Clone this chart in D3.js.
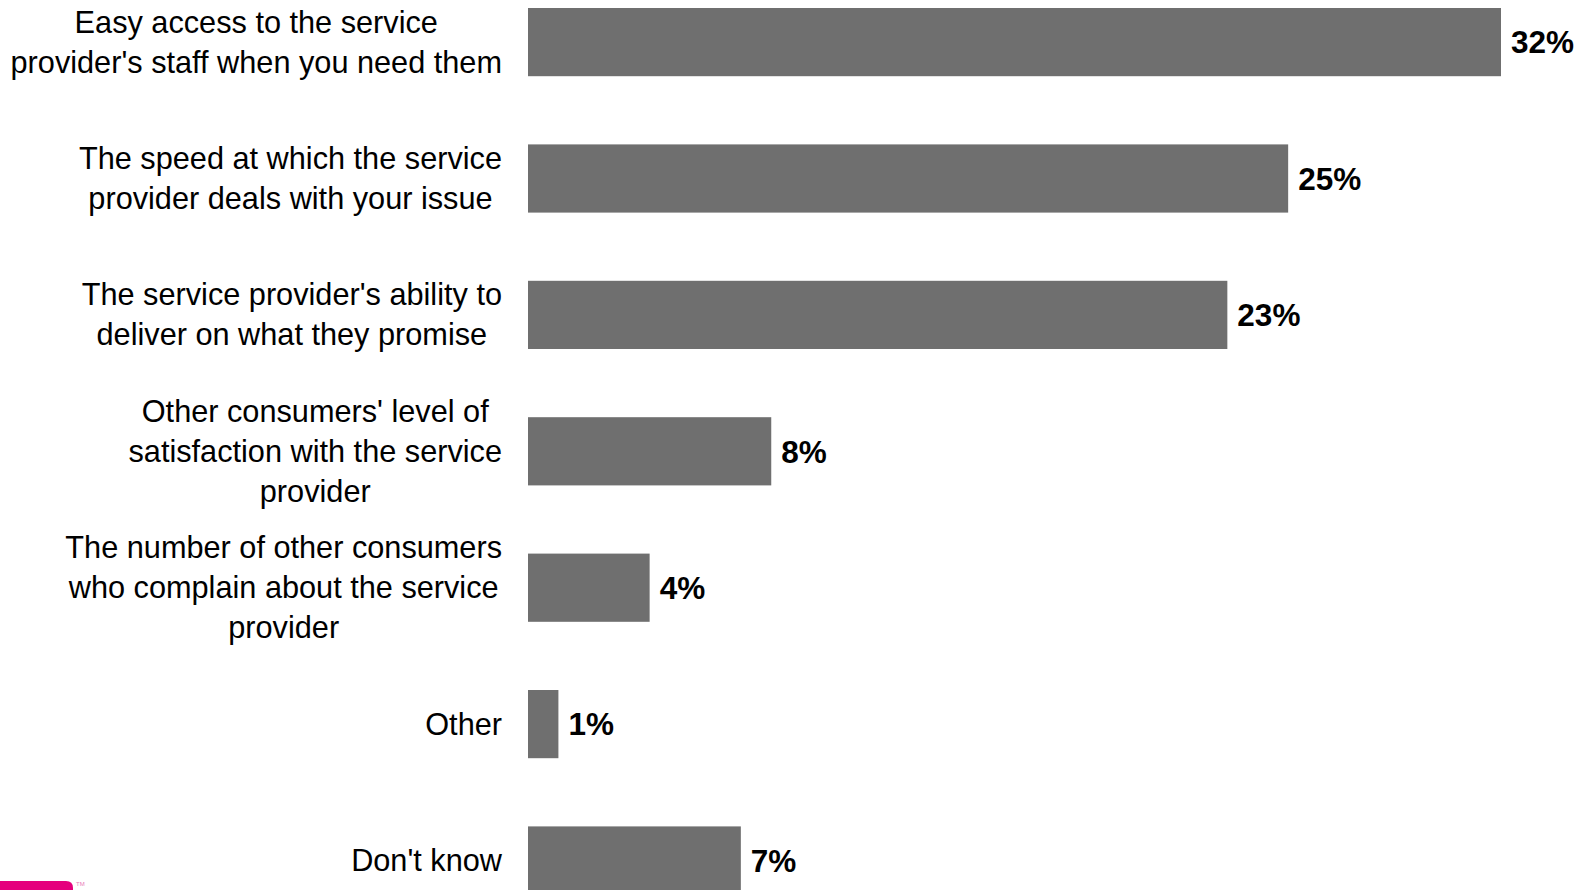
<!DOCTYPE html>
<html>
<head>
<meta charset="utf-8">
<script src="https://cdn.jsdelivr.net/npm/d3@7"></script>
<style>
  html, body { margin: 0; padding: 0; background: #fff; }
  svg { display: block; }
</style>
</head>
<body>
<svg id="chart" width="1582" height="890"></svg>
<script>
// Survey answers, in the order they are listed
const categories = [
  "Easy access to the service provider's staff when you need them",
  "The speed at which the service provider deals with your issue",
  "The service provider's ability to deliver on what they promise",
  "Other consumers' level of satisfaction with the service provider",
  "The number of other consumers who complain about the service provider",
  "Other",
  "Don't know"
];
// How each category label wraps onto lines
const labelLines = [
  ["Easy access to the service", "provider's staff when you need them"],
  ["The speed at which the service", "provider deals with your issue"],
  ["The service provider's ability to", "deliver on what they promise"],
  ["Other consumers' level of", "satisfaction with the service", "provider"],
  ["The number of other consumers", "who complain about the service", "provider"],
  ["Other"],
  ["Don't know"]
];
// Share of respondents (%)
const values = [32, 25, 23, 8, 4, 1, 7];

const svg = d3.select("#chart");

const step = 136.4;
const barTop = 8;
const y = d3.scaleBand()
  .domain(categories)
  .range([barTop - 0.25 * step, barTop + 6.75 * step])
  .paddingInner(0.5)
  .paddingOuter(0.25);

const x = d3.scaleLinear()
  .domain([0, 32])
  .range([528, 1501]);

const font = "'Liberation Sans', Arial, Helvetica, sans-serif";

// Bars
svg.append("g")
  .selectAll("rect")
  .data(categories)
  .join("rect")
  .attr("x", x(0))
  .attr("y", d => y(d))
  .attr("width", (d, i) => x(values[i]) - x(0))
  .attr("height", y.bandwidth())
  .attr("fill", "#6f6f6f");

// Value labels
svg.append("g")
  .selectAll("text")
  .data(categories)
  .join("text")
  .attr("x", (d, i) => x(values[i]) + 10)
  .attr("y", d => y(d) + y.bandwidth() / 2)
  .attr("dy", "0.36em")
  .attr("font-family", font)
  .attr("font-size", 31.5)
  .attr("font-weight", "bold")
  .attr("fill", "#000")
  .text((d, i) => values[i] + "%");

// Category labels: centred lines, block aligned right against the bars
const labelRight = 502;
const lineH = 40;
const labelG = svg.append("g");
categories.forEach((c, i) => {
  const lines = labelLines[i];
  const g = labelG.append("g");
  const texts = g.selectAll("text")
    .data(lines)
    .join("text")
    .attr("font-family", font)
    .attr("font-size", 30.7)
    .attr("fill", "#000")
    .attr("text-anchor", "middle")
    .text(d => d);
  let maxW = 0;
  texts.each(function () { maxW = Math.max(maxW, this.getComputedTextLength()); });
  const cx = labelRight - maxW / 2;
  const cy = y(c) + y.bandwidth() / 2;
  texts
    .attr("x", cx)
    .attr("y", (d, j) => cy + (j - (lines.length - 1) / 2) * lineH)
    .attr("dy", "0.34em");
});

// Brand mark in the lower left corner
svg.append("path")
  .attr("d", "M0,881 H66 Q73,881 73,888 V890 H0 Z")
  .attr("fill", "#e5007d");
svg.append("text")
  .attr("x", 76)
  .attr("y", 886)
  .attr("font-family", font)
  .attr("font-size", 6)
  .attr("fill", "#e87ab8")
  .text("TM");
</script>
</body>
</html>
